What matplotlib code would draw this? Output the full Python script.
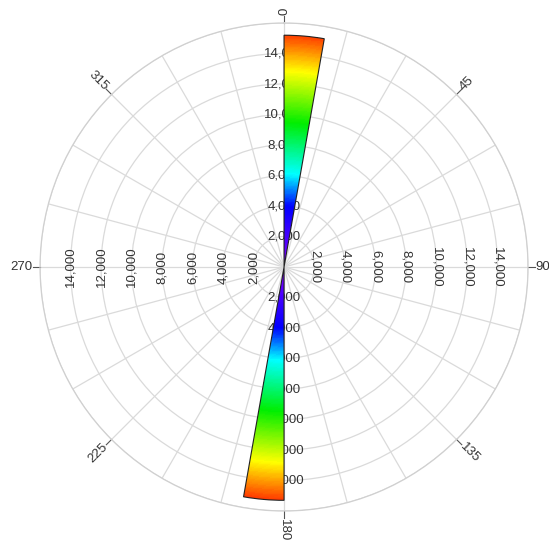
import numpy as np
import matplotlib.pyplot as plt
from matplotlib.colors import LinearSegmentedColormap

plt.rcParams['font.family'] = ['Liberation Sans', 'DejaVu Sans']

# ===== DATA =====
bin_start = [0, 180]          # direction bins, degrees (clockwise from north)
bin_width = 10                # degrees
counts = [15200, 15300]
r_ticks = [2000, 4000, 6000, 8000, 10000, 12000, 14000]
r_max = 16000
angle_labels = [0, 45, 90, 135, 180, 225, 270, 315]

# rainbow gradient along the radius, violet at centre -> red outside
cmap = LinearSegmentedColormap.from_list('rose', [
    (0.00, '#8a00ff'), (0.26, '#0000ff'), (0.40, '#00ffff'),
    (0.62, '#00ee00'), (0.84, '#ffff00'), (1.00, '#ff3a00')])

fig = plt.figure(figsize=(5.49, 5.40), dpi=100)
ax = fig.add_axes([0.0729, 0.0537, 0.889, 0.9037], projection='polar')
ax.set_theta_zero_location('N')
ax.set_theta_direction(-1)
ax.set_ylim(0, r_max)

ax.set_xticks(np.deg2rad(np.arange(0, 360, 15)))
ax.set_xticklabels([])
ax.set_yticks(r_ticks + [r_max])
ax.set_yticklabels([])
ax.tick_params(length=0)
ax.grid(True, color='#dadada', lw=0.9)
ax.spines['polar'].set_color('#d0d0d0')
ax.spines['polar'].set_linewidth(0.9)

# gradient-filled wedges
vmax = max(counts)
for start, val in zip(bin_start, counts):
    th = np.deg2rad(np.linspace(start, start + bin_width, 20))
    rr = np.linspace(0, val, 200)
    T, R = np.meshgrid(th, rr)
    C = 0.5 * (R[:-1, :-1] + R[1:, :-1])
    ax.pcolormesh(T, R, C, cmap=cmap, vmin=0, vmax=vmax, shading='flat', zorder=4)
ax.bar(np.deg2rad(bin_start), counts, width=np.deg2rad(bin_width), align='edge',
       fill=False, edgecolor='#222222', lw=0.8, zorder=5)

# radial labels on the four main axes
rot = {0: 0, 90: -90, 180: 0, 270: 90}
for a in rot:
    for r in r_ticks:
        ax.text(np.deg2rad(a), r, f"{r:,}", rotation=rot[a], ha='center', va='center',
                fontsize=9.5, color='#333333', zorder=3)

# angular ticks and labels outside the circle
for a in angle_labels:
    t = np.deg2rad(a)
    ax.plot([t, t], [r_max, r_max + 480], color='#555555', lw=0.8, clip_on=False)
    phi = 90 - a
    if a <= 180:
        ha = 'left'
        rt = phi
    else:
        ha = 'right'
        rt = phi + 180
    ax.text(t, r_max + 500, str(a), rotation=rt, rotation_mode='anchor', ha=ha, va='center',
            fontsize=9.5, color='#333333', clip_on=False)

plt.savefig('out.png', dpi=100)
